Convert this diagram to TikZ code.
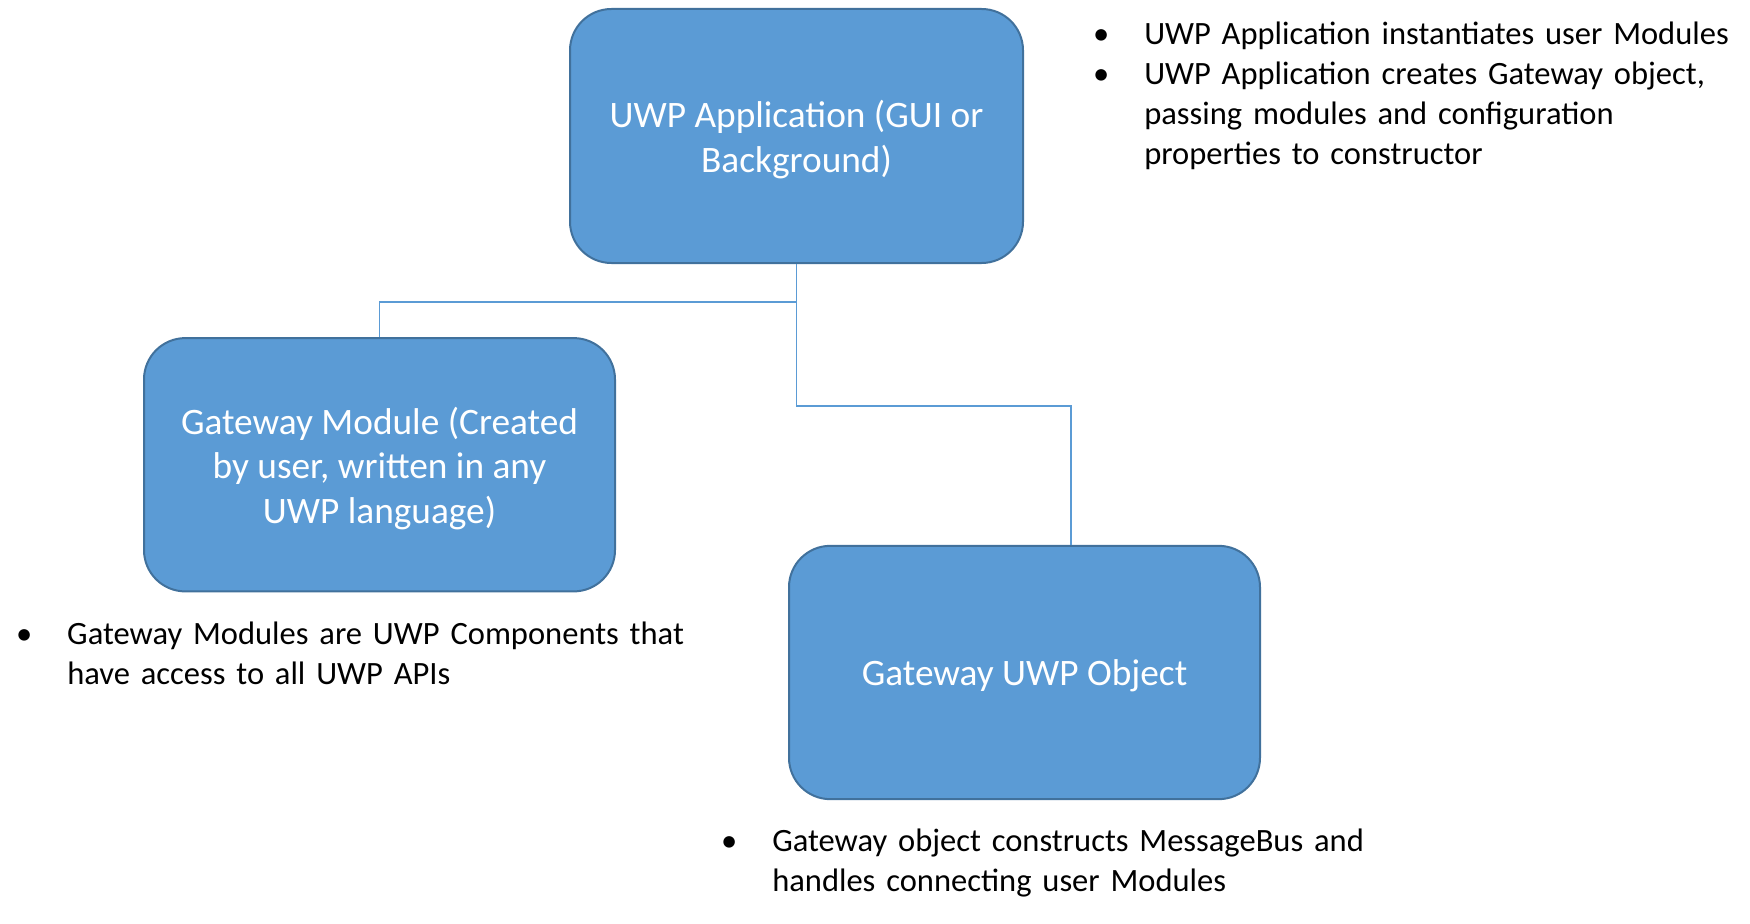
\documentclass[tikz,border=0pt]{standalone}
\usepackage{fontspec}
\setmainfont{Carlito}
\definecolor{boxfill}{HTML}{5B9BD5}
\definecolor{boxedge}{HTML}{41719C}
\definecolor{linkcol}{HTML}{5B9BD5}
\newcommand\bitem{\makebox[0pt]{\textbullet}\hspace*{32.25pt}}
\newcommand\bcont{\hspace*{32.25pt}}
\newcommand\topstrut{\rule{0pt}{26pt}}
\begin{document}
\begin{tikzpicture}[x=0.75pt,y=-0.75pt,
  box/.style={draw=boxedge,fill=boxfill,line width=1.5pt,rounded corners=31pt,
    text=white,align=center,font=\fontsize{28}{33.5}\selectfont,inner sep=0pt},
  link/.style={draw=linkcol,line width=1pt},
  notes/.style={anchor=base west,inner sep=0pt,align=left,text width=900pt,
    font=\fontsize{24.4}{30}\selectfont,text=black}]
\useasboundingbox (0,0) rectangle (1750,924);
\node[box,minimum width=339.75pt,minimum height=190.5pt] (app) at (796.5,136)
  {\topstrut UWP Application (GUI or\\Background)};
\node[box,minimum width=353.25pt,minimum height=190pt] (mod) at (379.5,464.75)
  {\topstrut Gateway Module (Created\\by user, written in any\\UWP language)};
\node[box,minimum width=353.25pt,minimum height=190pt,text height=25pt] (obj) at (1024.5,672.5)
  {Gateway UWP Object};
\draw[link] (app.south) -- ++(0,38) -| (mod.north);
\draw[link] (app.south) -- ++(0,142) -| ([xshift=34.9pt]obj.north);
\node[notes] (notesapp) at (1101,44.5)
  {\bitem UWP Application instantiates user Modules\\
   \bitem UWP Application creates Gateway object,\\
   \bcont passing modules and configuration\\
   \bcont properties to constructor};
\node[notes] (notesmod) at (24,644)
  {\bitem Gateway Modules are UWP Components that\\
   \bcont have access to all UWP APIs};
\node[notes] (notesobj) at (729,851)
  {\bitem Gateway object constructs MessageBus and\\
   \bcont handles connecting user Modules};
\end{tikzpicture}
\end{document}
